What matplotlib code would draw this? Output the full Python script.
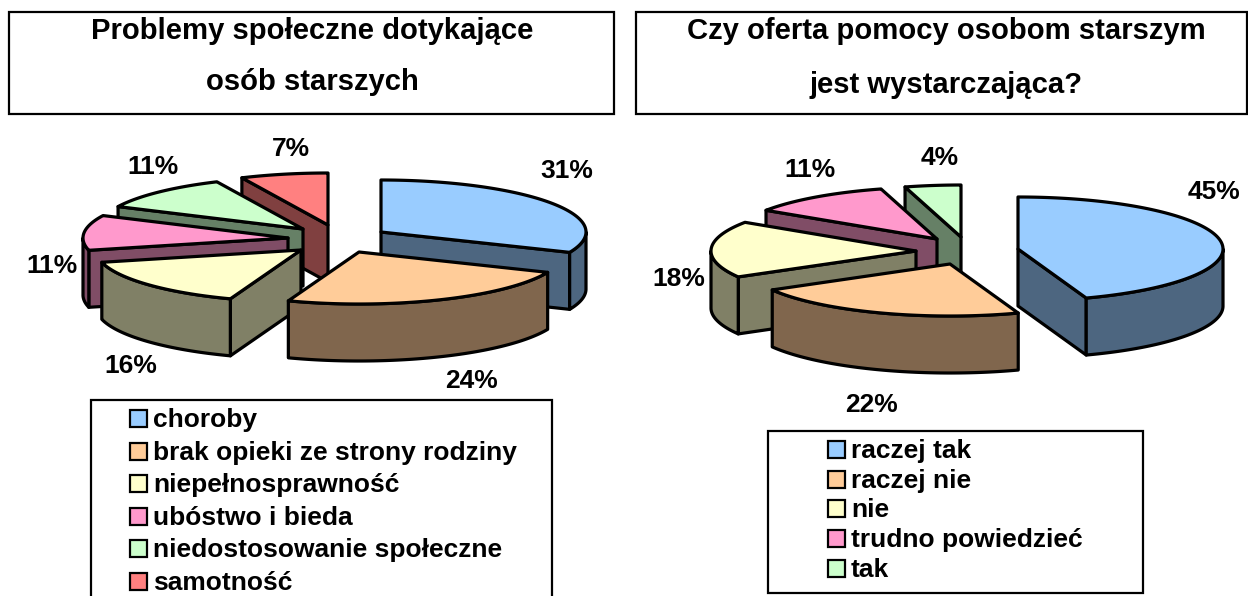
# Two exploded 3D-look pie charts with title boxes and legends

import numpy as np
import matplotlib
matplotlib.use("Agg")
import matplotlib.pyplot as plt
from matplotlib.patches import Polygon, Rectangle

# Data (slice shares, labels show them rounded)
left_title = ["Problemy społeczne dotykające", "osób starszych"]
left_labels = ["choroby", "brak opieki ze strony rodziny", "niepełnosprawność",
               "ubóstwo i bieda", "niedostosowanie społeczne", "samotność"]
left_values = [31.4, 24.2, 15.6, 10.9, 11.0, 6.9]

right_title = ["Czy oferta pomocy osobom starszym", "jest wystarczająca?"]
right_labels = ["raczej tak", "raczej nie", "nie", "trudno powiedzieć", "tak"]
right_values = [44.6, 22.1, 17.6, 11.3, 4.4]

left_colors = ["#99CCFF", "#FFCC99", "#FFFFCC", "#FF99CC", "#CCFFCC", "#FF8080"]
right_colors = ["#99CCFF", "#FFCC99", "#FFFFCC", "#FF99CC", "#CCFFCC"]

# Layout in pixels
left_apex = [(381, 232), (359, 252), (301, 250), (288, 238), (303, 229), (328, 225)]
right_apex = [(1018, 249), (950, 264), (916, 251), (937, 239), (961, 237)]
left_order = [5, 0, 4, 3, 2, 1]
right_order = [4, 3, 0, 2, 1]
left_label_pos = [(567, 171), (471, 381), (131, 366), (52, 266), (153, 167), (291, 149)]
right_label_pos = [(1214, 192), (871, 405), (679, 279), (810, 170), (940, 158)]
rx, ry, depth = 205, 52, 57
lw = 2.3
box_lw = 1.6

plt.rcParams['font.family'] = ['Liberation Sans', 'DejaVu Sans']
plt.rcParams['font.weight'] = 'bold'

fig = plt.figure(figsize=(12.48, 5.96), dpi=100)
ax = fig.add_axes([0, 0, 1, 1])
ax.set_xlim(0, 1248)
ax.set_ylim(596, 0)
ax.axis('off')


def darker(color):
    rgb = np.array(matplotlib.colors.to_rgb(color))
    return tuple(rgb * 0.5)


def rim_xy(apex, angles):
    # angles clockwise from 12 o'clock, in radians
    return apex[0] + rx * np.sin(angles), apex[1] - ry * np.cos(angles)


def draw_slice(apex, a0, a1, color, z):
    side = darker(color)
    kw = dict(edgecolor='black', linewidth=lw, joinstyle='round', zorder=z)

    # radial walls that face the viewer
    if np.sin(a0) < 0:
        x, y = rim_xy(apex, np.array([a0]))
        pts = [apex, (x[0], y[0]), (x[0], y[0] + depth), (apex[0], apex[1] + depth)]
        ax.add_patch(Polygon(pts, facecolor=side, **kw))
    if np.sin(a1) > 0:
        x, y = rim_xy(apex, np.array([a1]))
        pts = [apex, (x[0], y[0]), (x[0], y[0] + depth), (apex[0], apex[1] + depth)]
        ax.add_patch(Polygon(pts, facecolor=side, **kw))

    # outer rim, front half only
    lo, hi = max(a0, np.pi / 2), min(a1, 3 * np.pi / 2)
    if hi > lo:
        t = np.linspace(lo, hi, 80)
        x, y = rim_xy(apex, t)
        pts = np.r_[np.c_[x, y], np.c_[x[::-1], y[::-1] + depth]]
        ax.add_patch(Polygon(pts, facecolor=side, **kw))

    # top face
    t = np.linspace(a0, a1, 120)
    x, y = rim_xy(apex, t)
    pts = np.r_[[apex], np.c_[x, y]]
    ax.add_patch(Polygon(pts, facecolor=color, **kw))


def draw_pie(values, colors, apexes, order, label_pos):
    edges = np.r_[0, np.cumsum(values)] / np.sum(values) * 2 * np.pi
    for z, i in enumerate(order):
        draw_slice(apexes[i], edges[i], edges[i + 1], colors[i], 2 + z)
    for v, (x, y) in zip(values, label_pos):
        ax.text(x, y, f"{round(v)}%", fontsize=19, ha='center', va='center', zorder=20)


def draw_title(lines, x0, x1, x_text, y_lines):
    ax.add_patch(Rectangle((x0, 12), x1 - x0, 102, facecolor='white',
                           edgecolor='black', linewidth=box_lw, zorder=1))
    for line, y in zip(lines, y_lines):
        ax.text(x_text, y, line, fontsize=21.1, ha='center', va='center', zorder=20)


def draw_legend(labels, colors, x0, x1, y0, y1, box_x, y_first, step):
    ax.add_patch(Rectangle((x0, y0), x1 - x0, y1 - y0, facecolor='white',
                           edgecolor='black', linewidth=box_lw, zorder=1))
    for i, (label, color) in enumerate(zip(labels, colors)):
        y = y_first + i * step
        ax.add_patch(Rectangle((box_x, y - 9), 17, 17, facecolor=color,
                               edgecolor='black', linewidth=1.6, zorder=5))
        ax.text(box_x + 23, y + 1, label, fontsize=19, ha='left', va='center', zorder=20)


draw_title(left_title, 9, 614, 312, [31, 82])
draw_title(right_title, 636, 1247, 946, [31, 85])

draw_pie(left_values, left_colors, left_apex, left_order, left_label_pos)
draw_pie(right_values, right_colors, right_apex, right_order, right_label_pos)

draw_legend(left_labels, left_colors, 91, 552, 400, 605, 130, 419, 32.6)
draw_legend(right_labels, right_colors, 768, 1143, 431, 593, 828, 450, 29.7)

fig.savefig("out.png", dpi=100)
